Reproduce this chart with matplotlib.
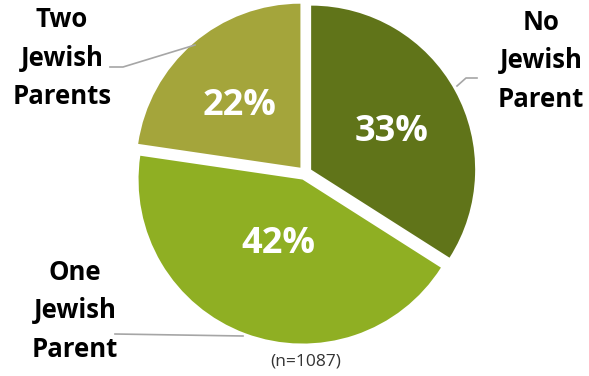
import numpy as np
import matplotlib.pyplot as plt

categories = ["No\nJewish\nParent", "One\nJewish\nParent", "Two\nJewish\nParents"]
values = [33, 42, 22]
colors = ["#607419", "#8FAF23", "#A4A53B"]
note = "(n=1087)"

plt.rcParams['font.family'] = ['Open Sans', 'DejaVu Sans']

W, H = 589, 376
fig = plt.figure(figsize=(W / 100, H / 100), dpi=100)
ax = fig.add_axes([0, 0, 1, 1])

# axes in pixel units so the pie lands where it should
cx, cy, r = 305, 203, 164
wedges, _ = ax.pie(values, colors=colors, startangle=90, counterclock=False,
                   explode=[7] * 3, center=(cx, cy), radius=r,
                   wedgeprops={"linewidth": 0})
ax.set_xlim(0, W)
ax.set_ylim(0, H)
ax.set_aspect("equal")
ax.axis("off")

# percentage labels inside the slices
pct_dist = [0.56, 0.42, 0.57]
pct_dy = [-7, 0, -9]
for w, v, d, dy in zip(wedges, values, pct_dist, pct_dy):
    ang = np.deg2rad((w.theta1 + w.theta2) / 2)
    x = w.center[0] + d * r * np.cos(ang)
    y = w.center[1] + d * r * np.sin(ang) + dy
    ax.text(x, y, f"{v}%", color="white", fontsize=26, fontweight="bold",
            ha="center", va="center")

# category labels with leader lines
lab_pos = [(541, 315), (75, 65), (62, 318)]
for (x, y), lab in zip(lab_pos, categories):
    ax.text(x, y, lab, fontsize=18.5, fontweight="bold", ha="center", va="center",
            linespacing=1.55, color="black")

lc = "#A6A6A6"
ax.plot([457, 466, 477], [290, 298, 298], color=lc, lw=1.2)
ax.plot([243, 115], [40, 42], color=lc, lw=1.2)
ax.plot([110, 123, 195], [309, 309, 331], color=lc, lw=1.2)

ax.text(306, 14, note, fontsize=12.5, ha="center", va="center", color="#333333")

fig.savefig("out.png", dpi=100)
